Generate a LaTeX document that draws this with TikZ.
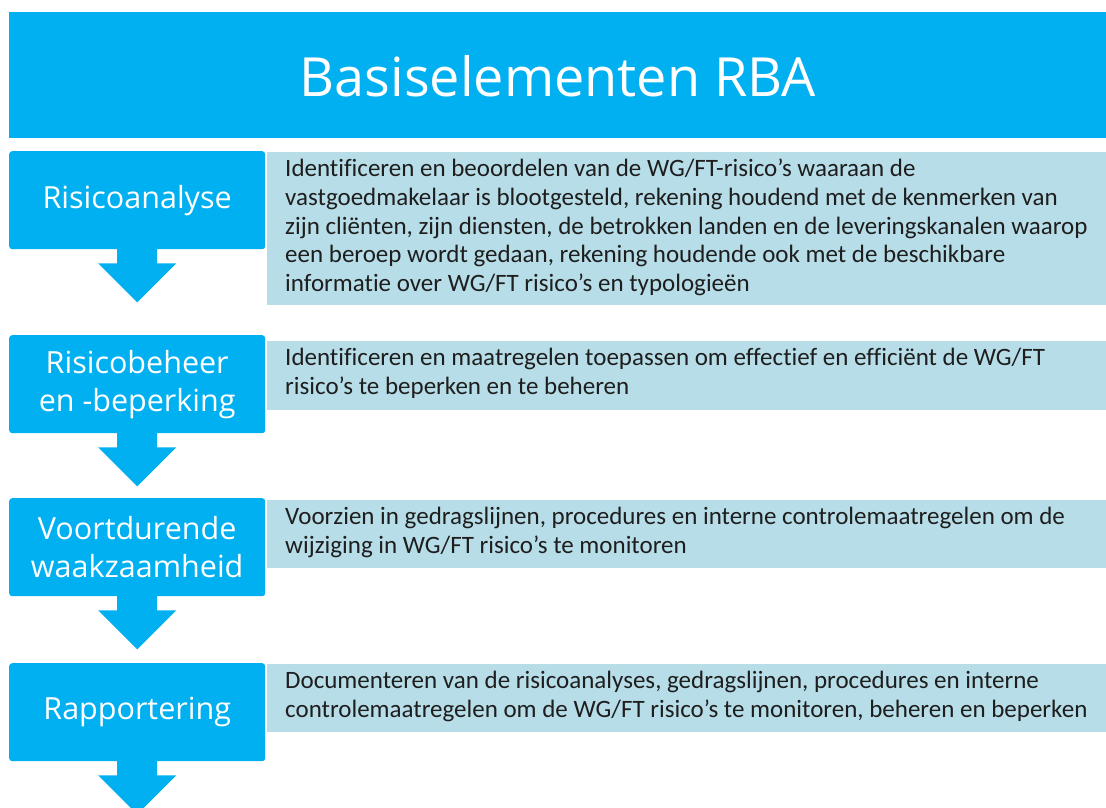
\documentclass[tikz,border=0pt]{standalone}
\usepackage{fontspec}
\newfontfamily\titlefont{Open Sans}
\newfontfamily\descfont[Ligatures=NoCommon]{Carlito}
\definecolor{mainblue}{HTML}{00B0F0}
\definecolor{lightbox}{HTML}{B7DDE8}
\definecolor{desctext}{HTML}{1E1E1E}
\tikzset{
  banner/.style={fill=mainblue, draw=none, anchor=north west, inner sep=0pt},
  stepbox/.style={fill=mainblue, draw=none, rounded corners=3pt, anchor=north west,
    minimum width=256pt, minimum height=98pt, inner sep=0pt, align=center,
    text=white, font=\titlefont\fontsize{30.5}{38}\selectfont},
  infobox/.style={fill=lightbox, draw=none, anchor=north west, minimum width=839pt, inner sep=0pt},
  infotext/.style={anchor=north west, inner sep=0pt, align=left, text=desctext,
    font=\descfont\fontsize{25}{28.7}\selectfont},
  arrowshape/.style={fill=mainblue, draw=none}
}
\begin{document}
\begin{tikzpicture}[x=1pt, y=-1pt]
\useasboundingbox (0,0) rectangle (1106,807);
\clip (0,0) rectangle (1106,807);
\fill[white] (0,0) rectangle (1106,807);
% banner
\node[banner, minimum width=1097pt, minimum height=126pt] (ban) at (9,12) {};
\node[text=white, font=\titlefont\fontsize{54}{64}\selectfont] (title) at ([yshift=-1pt]ban.center) {Basiselementen RBA};
% left step boxes
\node[stepbox] (l1) at (9,151) {Risicoanalyse};
\node[stepbox] (l2) at (9,335) {Risicobeheer\\en -beperking};
\node[stepbox] (l3) at (9,498) {Voortdurende\\waakzaamheid};
\node[stepbox] (l4) at (9,663) {Rapportering};
% arrows under each step
\foreach \b in {l1,l2,l3,l4} {
  \fill[arrowshape] ([xshift=-20pt,yshift=1pt]\b.south) -- ++(0,15) -- ++(-19,0) -- ++(39,39) -- ++(39,-39) -- ++(-19,0) -- ++(0,-15) -- cycle;
}
% right info boxes
\node[infobox, minimum height=153pt] (r1) at (267,152) {};
\node[infobox, minimum height=69pt] (r2) at (267,341) {};
\node[infobox, minimum height=68pt] (r3) at (267,500) {};
\node[infobox, minimum height=68pt] (r4) at (267,664) {};
\node[infotext] (t1) at ([xshift=18pt,yshift=-7pt]r1.north west) {Identificeren en beoordelen van de WG/FT-risico’s waaraan de\\vastgoedmakelaar is blootgesteld, rekening houdend met de kenmerken van\\zijn cliënten, zijn diensten, de betrokken landen en de leveringskanalen waarop\\een beroep wordt gedaan, rekening houdende ook met de beschikbare\\informatie over WG/FT risico’s en typologieën};
\node[infotext] (t2) at ([xshift=18pt,yshift=-7pt]r2.north west) {Identificeren en maatregelen toepassen om effectief en efficiënt de WG/FT\\risico’s te beperken en te beheren};
\node[infotext] (t3) at ([xshift=18pt,yshift=-7pt]r3.north west) {Voorzien in gedragslijnen, procedures en interne controlemaatregelen om de\\wijziging in WG/FT risico’s te monitoren};
\node[infotext] (t4) at ([xshift=18pt,yshift=-7pt]r4.north west) {Documenteren van de risicoanalyses, gedragslijnen, procedures en interne\\controlemaatregelen om de WG/FT risico’s te monitoren, beheren en beperken};
\end{tikzpicture}
\end{document}
